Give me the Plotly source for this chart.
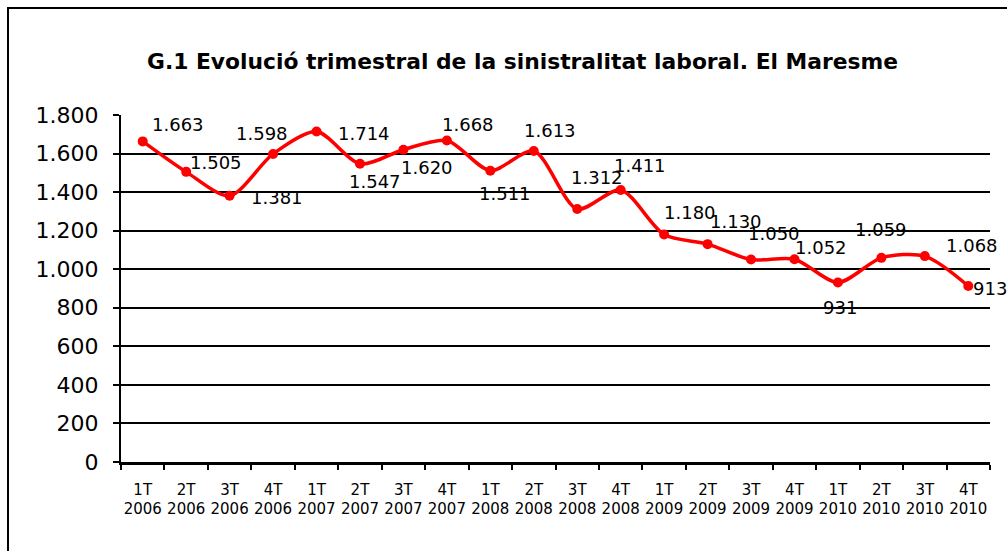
import plotly.graph_objects as go

quarters = ["1T", "2T", "3T", "4T"] * 5
years = ["2006"] * 4 + ["2007"] * 4 + ["2008"] * 4 + ["2009"] * 4 + ["2010"] * 4
categories = [f"{q}<br>{y}" for q, y in zip(quarters, years)]
values = [1663, 1505, 1381, 1598, 1714, 1547, 1620, 1668, 1511, 1613,
          1312, 1411, 1180, 1130, 1050, 1052, 931, 1059, 1068, 913]
label_text = [f"{v:,}".replace(",", ".") for v in values]

# label offsets in pixels (layout only)
label_dx = [35, 30, 47, -11, 47, 15, 24, 21, 15, 16, 20, 19, 26, 28, 23, 27, 2, 0, 47, 22]
label_dy = [17, 9, -2, 20, -2, -18, -18, 16, -23, 21, 32, 24, 22, 23, 26, 12, -25, 28, 11, -3]

W, H = 1007, 551
ml, mr, mt, mb = 121, 17, 115, 89
pw, ph = W - ml - mr, H - mt - mb

fig = go.Figure()
fig.add_trace(go.Scatter(
    x=categories, y=values,
    mode="lines+markers",
    line=dict(color="#ff0000", width=3.5, shape="spline", smoothing=0.8),
    marker=dict(color="#ff0000", size=10),
    hoverinfo="skip",
    cliponaxis=False,
))

for i, (v, t) in enumerate(zip(values, label_text)):
    fig.add_annotation(x=categories[i], y=v, text=t, showarrow=False,
                       xshift=label_dx[i], yshift=label_dy[i],
                       font=dict(family="DejaVu Sans", size=18, color="#000000"))

fig.add_annotation(x=(522 - ml) / pw, y=(mt - 47) / ph + 1, xref="paper", yref="paper",
                   text="<b>G.1 Evolució trimestral de la sinistralitat laboral. El Maresme</b>",
                   showarrow=False, font=dict(family="DejaVu Sans", size=21.8, color="#000000"))

# outer frame
fig.add_shape(type="rect", xref="paper", yref="paper",
              x0=(8 - ml) / pw, x1=(1020 - ml) / pw,
              y0=-(560 - mt - ph) / ph, y1=1 + (mt - 8) / ph,
              line=dict(color="#000000", width=2))

fig.update_layout(
    width=W, height=H,
    margin=dict(l=ml, r=mr, t=mt, b=mb),
    paper_bgcolor="white", plot_bgcolor="white",
    showlegend=False,
    xaxis=dict(
        type="category",
        categoryorder="array", categoryarray=categories,
        range=[-0.5, len(categories) - 0.5],
        tickson="boundaries",
        tickangle=0,
        showgrid=False, zeroline=False,
        showline=True, linecolor="#000000", linewidth=2.5,
        ticks="outside", ticklen=5, tickcolor="#000000", tickwidth=1.5,
        ticklabelstandoff=12,
        tickfont=dict(family="DejaVu Sans", size=15, color="#000000"),
        fixedrange=True,
    ),
    yaxis=dict(
        range=[0, 1800], tickmode="array",
        tickvals=list(range(0, 1801, 200)),
        ticktext=[f"{v:,}".replace(",", ".") for v in range(0, 1801, 200)],
        showgrid=True, gridcolor="#000000", gridwidth=1.5, zeroline=False,
        showline=True, linecolor="#000000", linewidth=2,
        ticks="outside", ticklen=6, tickcolor="#000000", tickwidth=1.5,
        ticklabelstandoff=10,
        tickfont=dict(family="DejaVu Sans", size=22, color="#000000"),
        fixedrange=True,
    ),
)

fig.write_html("out.html", config={"displayModeBar": False},
               post_script="document.body.style.margin='0';document.body.style.overflow='hidden';")
